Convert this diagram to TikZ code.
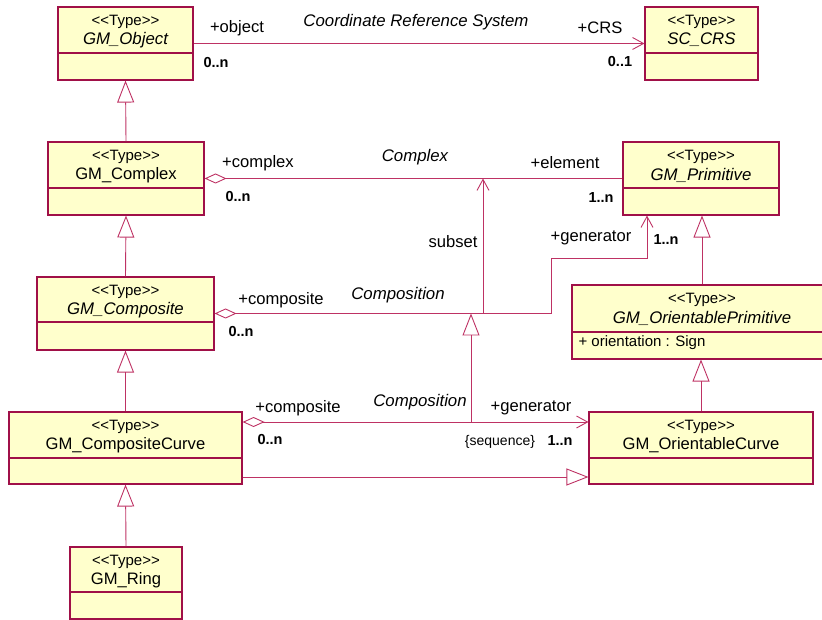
\documentclass[tikz,border=0pt]{standalone}
\usepackage{fontspec}
\setmainfont{Liberation Sans}
\usetikzlibrary{arrows.meta}

\definecolor{boxfill}{RGB}{255,255,204}
\definecolor{boxdraw}{RGB}{160,16,72}
\definecolor{linkdraw}{RGB}{190,50,100}

% kern keeps << and >> from turning into guillemets
\newcommand{\stype}{<\kern0pt<Type>\kern0pt>}

% class box: name, x1, y1, x2, y2, divider y, title, title style
\newcommand{\umltype}[8]{%
  \node[typebox, minimum width={(#4-#2)*1pt}, minimum height={(#5-#3)*1pt}]
    (#1) at ({(#2+#4)/2},{(#3+#5)/2}) {};
  \draw[boxdraw, line width=1.1pt] (#2,#6) -- (#4,#6);
  \node[stereo] at ({(#2+#4)/2},#3+15) {\stype};
  \node[#8] at ({(#2+#4)/2},#3+33) {#7};
}

\begin{document}
\begin{tikzpicture}[
x=1pt, y=-1pt,
typebox/.style={rectangle, draw=boxdraw, fill=boxfill, line width=1.1pt, inner sep=0pt},
stereo/.style={font=\fontsize{15}{17}\selectfont},
tname/.style={font=\fontsize{16.6}{19}\selectfont},
aname/.style={font=\fontsize{16.8}{19}\selectfont\itshape},
role/.style={font=\fontsize{16.6}{19}\selectfont},
mult/.style={font=\fontsize{14.5}{16}\selectfont\bfseries},
link/.style={draw=linkdraw, line width=0.9pt},
gen/.style={link, -{Triangle[open, length=22pt, width=17pt]}},
nav/.style={link, -{Straight Barb[length=11pt, width=12pt]}},
agg/.style={link, {Diamond[open, length=22pt, width=10pt]}-},
aggnav/.style={link, {Diamond[open, length=22pt, width=10pt]}-{Straight Barb[length=11pt, width=12pt]}}
]
\useasboundingbox (0,0) rectangle (822,620);

% types
\umltype{obj}{58}{7}{193}{80}{53}{GM\_Object}{aname}
\umltype{crs}{645}{7}{758}{80}{53}{SC\_CRS}{aname}
\umltype{cplx}{48}{142}{204}{215}{188}{GM\_Complex}{tname}
\umltype{prim}{623}{142}{779}{215}{188}{GM\_Primitive}{aname}
\umltype{comp}{37}{277}{214}{350}{322}{GM\_Composite}{aname}
\umltype{oprim}{572}{285}{832}{359}{332}{GM\_OrientablePrimitive}{aname}
\node[role, anchor=west, font=\fontsize{15}{17}\selectfont] (orient) at (575,343) {+ orientation : Sign};
\umltype{ccurve}{9}{412}{242}{484}{458}{GM\_CompositeCurve}{tname}
\umltype{ocurve}{589}{412}{813}{484}{458}{GM\_OrientableCurve}{tname}
\umltype{ring}{70}{547}{182}{619}{592}{GM\_Ring}{tname}

% bends and junctions
\coordinate (subfoot) at (483,313.5);
\coordinate (gbend) at (551,258);
\coordinate (gtop) at (647,258);
\coordinate (assocgen) at (471,313.5);
\coordinate (lowc) at (471,422);
\coordinate (genrow) at (0,477);

% inheritance
\draw[gen] (cplx.north) -- (obj.south);
\draw[gen] (comp.north) -- (cplx.south);
\draw[gen] (ccurve.north) -- (comp.south);
\draw[gen] (ring.north) -- (ccurve.south);
\draw[gen] (oprim.north) -- (oprim.north |- prim.south);
\draw[gen] (ocurve.north) -- (ocurve.north |- oprim.south);
\draw[gen] (ccurve.east |- genrow) -- (ocurve.west |- genrow);
\draw[gen] (lowc) -- (assocgen);

% associations
\draw[nav] (obj.east) -- (crs.west);
\draw[agg] (cplx.east) -- (prim.west);
\draw[aggnav] (comp.east) -- (comp.east -| gbend) -- (gbend) -- (gtop) -- (gtop |- prim.south);
\draw[nav] (subfoot) -- (subfoot |- cplx.east);
\draw[aggnav] (ccurve.east |- lowc) -- (ocurve.west |- lowc);

% labels
\node[aname] (crsname) at (416,22) {Coordinate Reference System};
\node[role] (objrole) at (237,28) {+object};
\node[mult] (objmult) at (216,63) {0..n};
\node[role] (crsrole) at (600,28) {+CRS};
\node[mult] (crsmult) at (620,62) {0..1};

\node[aname] (cplxname) at (415,157) {Complex};
\node[role] (cplxrole) at (258,163) {+complex};
\node[mult] (cplxmult) at (238,197) {0..n};
\node[role] (elemrole) at (565,163) {+element};
\node[mult] (elemmult) at (601,198) {1..n};

\node[role] (subset) at (453,242) {subset};
\node[aname] (compname) at (398,295) {Composition};
\node[role] (comprole) at (281,300) {+composite};
\node[mult] (compmult) at (241,332) {0..n};
\node[role] (genrole) at (591,238) {+generator};
\node[mult] (genmult) at (666,240) {1..n};

\node[aname] (ccname) at (420,402) {Composition};
\node[role] (ccrole) at (298,408) {+composite};
\node[mult] (ccmult) at (270,440) {0..n};
\node[role] (ocrole) at (531,408) {+generator};
\node[role, font=\fontsize{14}{16}\selectfont] (seq) at (500,442) {\{sequence\}};
\node[mult] (ocmult) at (560,441) {1..n};
\end{tikzpicture}
\end{document}
